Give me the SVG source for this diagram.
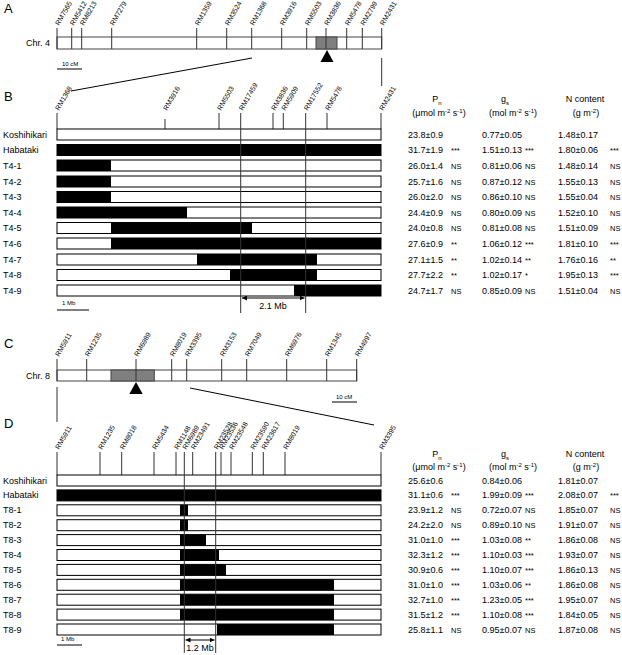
<svg xmlns="http://www.w3.org/2000/svg" width="622" height="655" viewBox="0 0 622 655">
<defs>
<style>
text{font-family:"Liberation Sans",Arial,sans-serif;fill:#000}
.pl{font-size:13px}
.mk{font-size:7px}
.lb{font-size:9px}
.nm{font-size:9px}
.sg{font-size:7.5px}
.sc{font-size:6px}
.hd{font-size:9px;text-anchor:middle}
.tk{stroke:#333;stroke-width:1}
.ln{stroke:#000;stroke-width:1;fill:none}
.bar{fill:#fff;stroke:#000;stroke-width:1}
.chr{fill:#fff;stroke:#444;stroke-width:1}
.gry{fill:#7f7f7f;stroke:#444;stroke-width:1}
.blk{fill:#000}
</style>
<marker id="ah" viewBox="0 0 6 6" refX="6" refY="3" markerWidth="5" markerHeight="5" orient="auto-start-reverse"><path d="M0,0L6,3L0,6z" fill="#000"/></marker>
</defs>
<rect width="622" height="655" fill="#fff"/>

<!-- Panel labels -->
<text class="pl" x="4" y="13">A</text>
<text class="pl" x="4" y="101">B</text>
<text class="pl" x="4" y="348">C</text>
<text class="pl" x="4" y="428">D</text>

<!-- Panel A: chromosome 4 -->
<g id="chr4">
<text class="lb" x="26" y="46">Chr. 4</text>
<rect class="chr" x="57" y="37" width="324.7" height="12"/>
<rect class="gry" x="316" y="37" width="21" height="12"/>
<g class="tk">
<line x1="57" y1="28" x2="57" y2="49"/><line x1="71.7" y1="28" x2="71.7" y2="49"/><line x1="81.7" y1="28" x2="81.7" y2="49"/><line x1="111.7" y1="28" x2="111.7" y2="49"/><line x1="196.7" y1="28" x2="196.7" y2="49"/><line x1="226.7" y1="28" x2="226.7" y2="49"/><line x1="251.7" y1="28" x2="251.7" y2="49"/><line x1="281.7" y1="28" x2="281.7" y2="49"/><line x1="306.7" y1="28" x2="306.7" y2="49"/><line x1="326" y1="28" x2="326" y2="49"/><line x1="346.7" y1="28" x2="346.7" y2="49"/><line x1="362.3" y1="28" x2="362.3" y2="49"/><line x1="381.7" y1="28" x2="381.7" y2="49"/>
</g>
<text class="mk" transform="translate(59,26) rotate(-60)">RM7565</text>
<text class="mk" transform="translate(73.7,26) rotate(-60)">RM5412</text>
<text class="mk" transform="translate(83.7,26) rotate(-60)">RM8213</text>
<text class="mk" transform="translate(113.7,26) rotate(-60)">RM7279</text>
<text class="mk" transform="translate(198.7,26) rotate(-60)">RM1359</text>
<text class="mk" transform="translate(228.7,26) rotate(-60)">RM3524</text>
<text class="mk" transform="translate(253.7,26) rotate(-60)">RM1368</text>
<text class="mk" transform="translate(283.7,26) rotate(-60)">RM3916</text>
<text class="mk" transform="translate(308.7,26) rotate(-60)">RM5503</text>
<text class="mk" transform="translate(328,26) rotate(-60)">RM3836</text>
<text class="mk" transform="translate(348.7,26) rotate(-60)">RM5478</text>
<text class="mk" transform="translate(364.3,26) rotate(-60)">RM2799</text>
<text class="mk" transform="translate(383.7,26) rotate(-60)">RM2431</text>
<polygon points="327,50 320.5,62 333.5,62" fill="#000"/>
<line class="ln" x1="57" y1="69" x2="82" y2="69"/>
<text class="sc" x="62" y="66">10 cM</text>
</g>

<!-- Panel B: markers -->
<g id="B-markers">
<g class="tk">
<line x1="57" y1="113" x2="57" y2="129"/><line x1="165" y1="119" x2="165" y2="129"/><line x1="219" y1="113" x2="219" y2="129"/><line x1="273" y1="113" x2="273" y2="129"/><line x1="283.3" y1="113" x2="283.3" y2="129"/><line x1="327" y1="113" x2="327" y2="129"/><line x1="381" y1="113" x2="381" y2="129"/>
</g>
<text class="mk" transform="translate(59,111) rotate(-60)">RM1368</text>
<text class="mk" transform="translate(167,111) rotate(-60)">RM3916</text>
<text class="mk" transform="translate(221,111) rotate(-60)">RM5503</text>
<text class="mk" transform="translate(242.7,111) rotate(-60)">RM17459</text>
<text class="mk" transform="translate(275,111) rotate(-60)">RM3836</text>
<text class="mk" transform="translate(285.3,111) rotate(-60)">RM5909</text>
<text class="mk" transform="translate(307.7,111) rotate(-60)">RM17552</text>
<text class="mk" transform="translate(329,111) rotate(-60)">RM5478</text>
<text class="mk" transform="translate(383,111) rotate(-60)">RM2431</text>
</g>

<!-- Panel B header -->
<g id="B-header">
<text class="hd" x="437" y="102">P<tspan font-size="6" baseline-shift="sub">n</tspan></text>
<text class="hd" x="439" y="116">(μmol m<tspan font-size="6" baseline-shift="super">-2</tspan> s<tspan font-size="6" baseline-shift="super">-1</tspan>)</text>
<text class="hd" x="505" y="102">g<tspan font-size="6" baseline-shift="sub">s</tspan></text>
<text class="hd" x="513" y="116">(mol m<tspan font-size="6" baseline-shift="super">-2</tspan> s<tspan font-size="6" baseline-shift="super">-1</tspan>)</text>
<text class="hd" x="585" y="102">N content</text>
<text class="hd" x="586" y="116">(g m<tspan font-size="6" baseline-shift="super">-2</tspan>)</text>
</g>

<!-- Panel B rows -->
<g id="B-Koshihikari"><text class="lb" x="3" y="137.5">Koshihikari</text><rect class="bar" x="57" y="129" width="324" height="11"/>
<text class="nm" x="408" y="137.5">23.8±0.9</text><text class="nm" x="482" y="137.5">0.77±0.05</text><text class="nm" x="558" y="137.5">1.48±0.17</text></g>
<g id="B-Habataki"><text class="lb" x="3" y="153">Habataki</text><rect class="bar blk" x="57" y="144.5" width="324" height="11"/>
<text class="nm" x="408" y="153">31.7±1.9</text><text class="sg" x="451" y="153">***</text><text class="nm" x="482" y="153">1.51±0.13</text><text class="sg" x="525" y="153">***</text><text class="nm" x="558" y="153">1.80±0.06</text><text class="sg" x="610" y="153">***</text></g>
<g id="B-T4-1"><text class="lb" x="3" y="168.5">T4-1</text><rect class="bar" x="57" y="160" width="324" height="11"/><rect class="blk" x="57" y="160" width="54" height="11"/>
<text class="nm" x="408" y="168.5">26.0±1.4</text><text class="sg" x="451" y="168.5">NS</text><text class="nm" x="482" y="168.5">0.81±0.06</text><text class="sg" x="525" y="168.5">NS</text><text class="nm" x="558" y="168.5">1.48±0.14</text><text class="sg" x="610" y="168.5">NS</text></g>
<g id="B-T4-2"><text class="lb" x="3" y="184.5">T4-2</text><rect class="bar" x="57" y="176" width="324" height="11"/><rect class="blk" x="57" y="176" width="54" height="11"/>
<text class="nm" x="408" y="184.5">25.7±1.6</text><text class="sg" x="451" y="184.5">NS</text><text class="nm" x="482" y="184.5">0.87±0.12</text><text class="sg" x="525" y="184.5">NS</text><text class="nm" x="558" y="184.5">1.55±0.13</text><text class="sg" x="610" y="184.5">NS</text></g>
<g id="B-T4-3"><text class="lb" x="3" y="200">T4-3</text><rect class="bar" x="57" y="191.5" width="324" height="11"/><rect class="blk" x="57" y="191.5" width="54" height="11"/>
<text class="nm" x="408" y="200">26.0±2.0</text><text class="sg" x="451" y="200">NS</text><text class="nm" x="482" y="200">0.86±0.10</text><text class="sg" x="525" y="200">NS</text><text class="nm" x="558" y="200">1.55±0.04</text><text class="sg" x="610" y="200">NS</text></g>
<g id="B-T4-4"><text class="lb" x="3" y="215.5">T4-4</text><rect class="bar" x="57" y="207" width="324" height="11"/><rect class="blk" x="57" y="207" width="130" height="11"/>
<text class="nm" x="408" y="215.5">24.4±0.9</text><text class="sg" x="451" y="215.5">NS</text><text class="nm" x="482" y="215.5">0.80±0.09</text><text class="sg" x="525" y="215.5">NS</text><text class="nm" x="558" y="215.5">1.52±0.10</text><text class="sg" x="610" y="215.5">NS</text></g>
<g id="B-T4-5"><text class="lb" x="3" y="231">T4-5</text><rect class="bar" x="57" y="222.5" width="324" height="11"/><rect class="blk" x="111" y="222.5" width="141" height="11"/>
<text class="nm" x="408" y="231">24.0±0.8</text><text class="sg" x="451" y="231">NS</text><text class="nm" x="482" y="231">0.81±0.08</text><text class="sg" x="525" y="231">NS</text><text class="nm" x="558" y="231">1.51±0.09</text><text class="sg" x="610" y="231">NS</text></g>
<g id="B-T4-6"><text class="lb" x="3" y="246.5">T4-6</text><rect class="bar" x="57" y="238" width="324" height="11"/><rect class="blk" x="111" y="238" width="270" height="11"/>
<text class="nm" x="408" y="246.5">27.6±0.9</text><text class="sg" x="451" y="246.5">**</text><text class="nm" x="482" y="246.5">1.06±0.12</text><text class="sg" x="525" y="246.5">***</text><text class="nm" x="558" y="246.5">1.81±0.10</text><text class="sg" x="610" y="246.5">***</text></g>
<g id="B-T4-7"><text class="lb" x="3" y="262.5">T4-7</text><rect class="bar" x="57" y="254" width="324" height="11"/><rect class="blk" x="197" y="254" width="120" height="11"/>
<text class="nm" x="408" y="262.5">27.1±1.5</text><text class="sg" x="451" y="262.5">**</text><text class="nm" x="482" y="262.5">1.02±0.14</text><text class="sg" x="525" y="262.5">**</text><text class="nm" x="558" y="262.5">1.76±0.16</text><text class="sg" x="610" y="262.5">**</text></g>
<g id="B-T4-8"><text class="lb" x="3" y="278">T4-8</text><rect class="bar" x="57" y="269.5" width="324" height="11"/><rect class="blk" x="230" y="269.5" width="87" height="11"/>
<text class="nm" x="408" y="278">27.7±2.2</text><text class="sg" x="451" y="278">**</text><text class="nm" x="482" y="278">1.02±0.17</text><text class="sg" x="525" y="278">*</text><text class="nm" x="558" y="278">1.95±0.13</text><text class="sg" x="610" y="278">***</text></g>
<g id="B-T4-9"><text class="lb" x="3" y="293.5">T4-9</text><rect class="bar" x="57" y="285" width="324" height="11"/><rect class="blk" x="294" y="285" width="87" height="11"/>
<text class="nm" x="408" y="293.5">24.7±1.7</text><text class="sg" x="451" y="293.5">NS</text><text class="nm" x="482" y="293.5">0.85±0.09</text><text class="sg" x="525" y="293.5">NS</text><text class="nm" x="558" y="293.5">1.51±0.04</text><text class="sg" x="610" y="293.5">NS</text></g>

<g id="B-scale"><line class="ln" x1="57" y1="310" x2="89" y2="310"/><text class="sc" x="62" y="305">1 Mb</text></g>
<g id="B-interval"><text class="lb" x="273" y="309" text-anchor="middle">2.1 Mb</text></g>

<!-- Panel C: chromosome 8 -->
<g id="chr8">
<text class="lb" x="26" y="378.5">Chr. 8</text>
<rect class="chr" x="57" y="370" width="299.7" height="11"/>
<rect class="gry" x="111" y="370" width="43.3" height="11"/>
<g class="tk">
<line x1="57" y1="359" x2="57" y2="381"/><line x1="86.7" y1="359" x2="86.7" y2="381"/><line x1="136" y1="359" x2="136" y2="381"/><line x1="171.7" y1="359" x2="171.7" y2="381"/><line x1="186.7" y1="359" x2="186.7" y2="381"/><line x1="221.7" y1="359" x2="221.7" y2="381"/><line x1="246.7" y1="359" x2="246.7" y2="381"/><line x1="286.7" y1="359" x2="286.7" y2="381"/><line x1="326.7" y1="359" x2="326.7" y2="381"/><line x1="356.7" y1="359" x2="356.7" y2="381"/>
</g>
<text class="mk" transform="translate(59,357) rotate(-60)">RM5911</text>
<text class="mk" transform="translate(88.7,357) rotate(-60)">RM1235</text>
<text class="mk" transform="translate(138,357) rotate(-60)">RM6989</text>
<text class="mk" transform="translate(173.7,357) rotate(-60)">RM8019</text>
<text class="mk" transform="translate(188.7,357) rotate(-60)">RM3395</text>
<text class="mk" transform="translate(223.7,357) rotate(-60)">RM3153</text>
<text class="mk" transform="translate(248.7,357) rotate(-60)">RM7049</text>
<text class="mk" transform="translate(288.7,357) rotate(-60)">RM6976</text>
<text class="mk" transform="translate(328.7,357) rotate(-60)">RM1345</text>
<text class="mk" transform="translate(358.7,357) rotate(-60)">RM4997</text>
<polygon points="136,382 129.3,394 142.7,394" fill="#000"/>
<text class="sc" x="336" y="399">10 cM</text>
<line class="ln" x1="332" y1="402" x2="357" y2="402"/>
</g>

<!-- Panel D: markers -->
<g id="D-markers">
<g class="tk">
<line x1="57" y1="452" x2="57" y2="475"/><line x1="100" y1="452" x2="100" y2="475"/><line x1="121.7" y1="452" x2="121.7" y2="475"/><line x1="154" y1="452" x2="154" y2="475"/><line x1="176" y1="452" x2="176" y2="475"/><line x1="192.7" y1="452" x2="192.7" y2="475"/><line x1="221" y1="452" x2="221" y2="475"/><line x1="231" y1="452" x2="231" y2="475"/><line x1="252.3" y1="452" x2="252.3" y2="475"/><line x1="263.3" y1="452" x2="263.3" y2="475"/><line x1="285" y1="452" x2="285" y2="475"/><line x1="381" y1="452" x2="381" y2="475"/>
</g>
<text class="mk" transform="translate(59,450) rotate(-60)">RM5911</text>
<text class="mk" transform="translate(102,450) rotate(-60)">RM1235</text>
<text class="mk" transform="translate(123.7,450) rotate(-60)">RM8018</text>
<text class="mk" transform="translate(156,450) rotate(-60)">RM5434</text>
<text class="mk" transform="translate(178,450) rotate(-60)">RM1148</text>
<text class="mk" transform="translate(186.3,450) rotate(-60)">RM6989</text>
<text class="mk" transform="translate(194.7,450) rotate(-60)">RM23491</text>
<text class="mk" transform="translate(217.7,450) rotate(-60)">RM23528</text>
<text class="mk" transform="translate(223,450) rotate(-60)">RM23536</text>
<text class="mk" transform="translate(233,450) rotate(-60)">RM23548</text>
<text class="mk" transform="translate(254.3,450) rotate(-60)">RM23590</text>
<text class="mk" transform="translate(265.3,450) rotate(-60)">RM23617</text>
<text class="mk" transform="translate(287,450) rotate(-60)">RM8019</text>
<text class="mk" transform="translate(383,450) rotate(-60)">RM3395</text>
</g>

<!-- Panel D header -->
<g id="D-header">
<text class="hd" x="437" y="457">P<tspan font-size="6" baseline-shift="sub">n</tspan></text>
<text class="hd" x="439" y="470">(μmol m<tspan font-size="6" baseline-shift="super">-2</tspan> s<tspan font-size="6" baseline-shift="super">-1</tspan>)</text>
<text class="hd" x="505" y="457">g<tspan font-size="6" baseline-shift="sub">s</tspan></text>
<text class="hd" x="513" y="470">(mol m<tspan font-size="6" baseline-shift="super">-2</tspan> s<tspan font-size="6" baseline-shift="super">-1</tspan>)</text>
<text class="hd" x="585" y="457">N content</text>
<text class="hd" x="586" y="470">(g m<tspan font-size="6" baseline-shift="super">-2</tspan>)</text>
</g>

<!-- Panel D rows -->
<g id="D-Koshihikari"><text class="lb" x="3" y="483.5">Koshihikari</text><rect class="bar" x="57" y="475" width="324" height="11"/>
<text class="nm" x="408" y="483.5">25.6±0.6</text><text class="nm" x="482" y="483.5">0.84±0.06</text><text class="nm" x="558" y="483.5">1.81±0.07</text></g>
<g id="D-Habataki"><text class="lb" x="3" y="498.4">Habataki</text><rect class="bar blk" x="57" y="489.9" width="324" height="11"/>
<text class="nm" x="408" y="498.4">31.1±0.6</text><text class="sg" x="451" y="498.4">***</text><text class="nm" x="482" y="498.4">1.99±0.09</text><text class="sg" x="525" y="498.4">***</text><text class="nm" x="558" y="498.4">2.08±0.07</text><text class="sg" x="610" y="498.4">***</text></g>
<g id="D-T8-1"><text class="lb" x="3" y="513.3">T8-1</text><rect class="bar" x="57" y="504.8" width="324" height="11"/><rect class="blk" x="180" y="504.8" width="8" height="11"/>
<text class="nm" x="408" y="513.3">23.9±1.2</text><text class="sg" x="451" y="513.3">NS</text><text class="nm" x="482" y="513.3">0.72±0.07</text><text class="sg" x="525" y="513.3">NS</text><text class="nm" x="558" y="513.3">1.85±0.07</text><text class="sg" x="610" y="513.3">NS</text></g>
<g id="D-T8-2"><text class="lb" x="3" y="528.2">T8-2</text><rect class="bar" x="57" y="519.7" width="324" height="11"/><rect class="blk" x="180" y="519.7" width="8" height="11"/>
<text class="nm" x="408" y="528.2">24.2±2.0</text><text class="sg" x="451" y="528.2">NS</text><text class="nm" x="482" y="528.2">0.89±0.10</text><text class="sg" x="525" y="528.2">NS</text><text class="nm" x="558" y="528.2">1.91±0.07</text><text class="sg" x="610" y="528.2">NS</text></g>
<g id="D-T8-3"><text class="lb" x="3" y="543.1">T8-3</text><rect class="bar" x="57" y="534.6" width="324" height="11"/><rect class="blk" x="180" y="534.6" width="26" height="11"/>
<text class="nm" x="408" y="543.1">31.0±1.0</text><text class="sg" x="451" y="543.1">***</text><text class="nm" x="482" y="543.1">1.03±0.08</text><text class="sg" x="525" y="543.1">**</text><text class="nm" x="558" y="543.1">1.86±0.08</text><text class="sg" x="610" y="543.1">NS</text></g>
<g id="D-T8-4"><text class="lb" x="3" y="558">T8-4</text><rect class="bar" x="57" y="549.5" width="324" height="11"/><rect class="blk" x="180" y="549.5" width="39" height="11"/>
<text class="nm" x="408" y="558">32.3±1.2</text><text class="sg" x="451" y="558">***</text><text class="nm" x="482" y="558">1.10±0.03</text><text class="sg" x="525" y="558">***</text><text class="nm" x="558" y="558">1.93±0.07</text><text class="sg" x="610" y="558">NS</text></g>
<g id="D-T8-5"><text class="lb" x="3" y="572.9">T8-5</text><rect class="bar" x="57" y="564.4" width="324" height="11"/><rect class="blk" x="180" y="564.4" width="46" height="11"/>
<text class="nm" x="408" y="572.9">30.9±0.6</text><text class="sg" x="451" y="572.9">***</text><text class="nm" x="482" y="572.9">1.10±0.07</text><text class="sg" x="525" y="572.9">***</text><text class="nm" x="558" y="572.9">1.86±0.13</text><text class="sg" x="610" y="572.9">NS</text></g>
<g id="D-T8-6"><text class="lb" x="3" y="587.8">T8-6</text><rect class="bar" x="57" y="579.3" width="324" height="11"/><rect class="blk" x="180" y="579.3" width="154" height="11"/>
<text class="nm" x="408" y="587.8">31.0±1.0</text><text class="sg" x="451" y="587.8">***</text><text class="nm" x="482" y="587.8">1.03±0.06</text><text class="sg" x="525" y="587.8">**</text><text class="nm" x="558" y="587.8">1.86±0.08</text><text class="sg" x="610" y="587.8">NS</text></g>
<g id="D-T8-7"><text class="lb" x="3" y="602.7">T8-7</text><rect class="bar" x="57" y="594.2" width="324" height="11"/><rect class="blk" x="180" y="594.2" width="154" height="11"/>
<text class="nm" x="408" y="602.7">32.7±1.0</text><text class="sg" x="451" y="602.7">***</text><text class="nm" x="482" y="602.7">1.23±0.05</text><text class="sg" x="525" y="602.7">***</text><text class="nm" x="558" y="602.7">1.95±0.07</text><text class="sg" x="610" y="602.7">NS</text></g>
<g id="D-T8-8"><text class="lb" x="3" y="617.6">T8-8</text><rect class="bar" x="57" y="609.1" width="324" height="11"/><rect class="blk" x="180" y="609.1" width="154" height="11"/>
<text class="nm" x="408" y="617.6">31.5±1.2</text><text class="sg" x="451" y="617.6">***</text><text class="nm" x="482" y="617.6">1.10±0.08</text><text class="sg" x="525" y="617.6">***</text><text class="nm" x="558" y="617.6">1.84±0.05</text><text class="sg" x="610" y="617.6">NS</text></g>
<g id="D-T8-9"><text class="lb" x="3" y="632.5">T8-9</text><rect class="bar" x="57" y="624" width="324" height="11"/><rect class="blk" x="217" y="624" width="117" height="11"/>
<text class="nm" x="408" y="632.5">25.8±1.1</text><text class="sg" x="451" y="632.5">NS</text><text class="nm" x="482" y="632.5">0.95±0.07</text><text class="sg" x="525" y="632.5">NS</text><text class="nm" x="558" y="632.5">1.87±0.08</text><text class="sg" x="610" y="632.5">NS</text></g>

<g id="D-scale"><line class="ln" x1="57" y1="645" x2="82" y2="645"/><text class="sc" x="61" y="641">1 Mb</text></g>
<g id="D-interval"><text class="lb" x="200" y="651" text-anchor="middle">1.2 Mb</text></g>

<!-- Connectors -->
<g id="connectors">
<line class="ln" x1="252" y1="58" x2="71" y2="91"/>
<line class="tk" x1="381.7" y1="58" x2="381.7" y2="86"/>
<line class="tk" x1="240.7" y1="113" x2="240.7" y2="313"/>
<line class="tk" x1="305.7" y1="113" x2="305.7" y2="313"/>
<line class="ln" x1="242" y1="298" x2="304.5" y2="298" marker-start="url(#ah)" marker-end="url(#ah)"/>
<line class="tk" x1="57" y1="387" x2="57" y2="422"/>
<line class="ln" x1="190" y1="388" x2="374" y2="425"/>
<line class="tk" x1="184.3" y1="452" x2="184.3" y2="653"/>
<line class="tk" x1="215.7" y1="452" x2="215.7" y2="653"/>
<line class="ln" x1="185.5" y1="640" x2="214.5" y2="640" marker-start="url(#ah)" marker-end="url(#ah)"/>
</g>
</svg>
